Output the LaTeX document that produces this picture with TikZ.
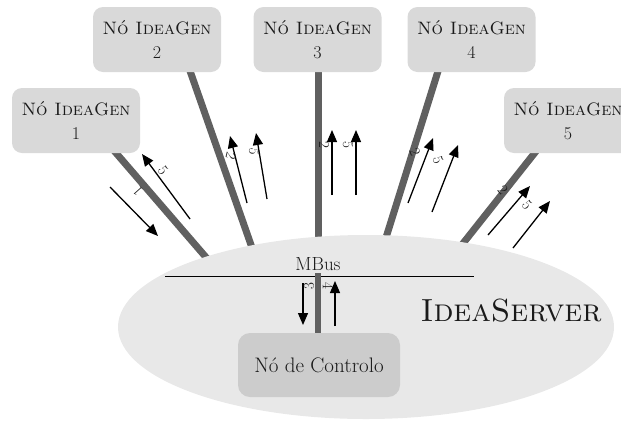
\documentclass[tikz,border=0pt]{standalone}
\usetikzlibrary{arrows.meta,shapes.geometric,backgrounds}
\definecolor{genfill}{HTML}{D9D9D9}
\definecolor{ctrlfill}{HTML}{CCCCCC}
\definecolor{srvfill}{HTML}{E8E8E8}
\definecolor{linkgray}{HTML}{606060}
\definecolor{txt}{HTML}{1A1A1A}
\tikzset{
  genbox/.style={fill=genfill, rounded corners=10pt, minimum width=128pt,
    minimum height=65pt, align=center, text=txt,
    font=\fontsize{18}{24}\selectfont},
  link/.style={draw=linkgray, line width=7pt},
  msg/.style={draw=black, line width=1.3pt, -{Triangle[length=12pt,width=10pt]}},
  num/.style={font=\fontsize{15}{15}\selectfont, text=txt, inner sep=0pt},
}
\begin{document}
\begin{tikzpicture}[x=1pt,y=-1pt]
\useasboundingbox (0,0) rectangle (621,421);

% IdeaServer region
\node[ellipse, fill=srvfill, minimum width=496pt, minimum height=184pt] (server) at (366,327) {};
\node[text=txt, font=\fontsize{32}{32}\selectfont] (srvlabel) at (511,311) {\textsc{IdeaServer}};

% IdeaGen nodes
\node[genbox] (g1) at (76,120.5) {\textsc{Nó IdeaGen}\\1};
\node[genbox] (g2) at (157,39.5) {\textsc{Nó IdeaGen}\\2};
\node[genbox] (g3) at (317.5,39.5) {\textsc{Nó IdeaGen}\\3};
\node[genbox] (g4) at (471.5,39.5) {\textsc{Nó IdeaGen}\\4};
\node[genbox] (g5) at (568,120.5) {\textsc{Nó IdeaGen}\\5};

% links from each IdeaGen node into the server
\coordinate (e1) at (223,277);
\coordinate (e2) at (257,262);
\coordinate (e3) at (318,262);
\coordinate (e4) at (379,260);
\coordinate (e5) at (434,280);
\begin{scope}[on background layer]
  \draw[link] (110,146) coordinate (s1) -- (e1);
  \draw[link] (189,68) coordinate (s2) -- (e2);
  \draw[link] (318,68) coordinate (s3) -- (e3);
  \draw[link] (439,68) coordinate (s4) -- (e4);
  \draw[link] (537,150) coordinate (s5) -- (e5);
\end{scope}

% message bus
\coordinate (busL) at (165,276);
\coordinate (busR) at (474,276);
\draw[line width=1pt] (busL) -- (busR);
\node[text=txt, font=\fontsize{19}{19}\selectfont, anchor=base] (mbus) at (318,270) {MBus};

% control node
\node[fill=ctrlfill, rounded corners=12pt, minimum width=162pt, minimum height=64pt,
      text=txt, font=\fontsize{21}{21}\selectfont] (ctrl) at (319,365) {Nó de Controlo};
\coordinate (cbus) at (318,273);
\draw[draw=linkgray, line width=6pt] (cbus) -- (ctrl.north -| cbus);

% messages between node 1 and the server
\coordinate (a1s) at (110,187); \coordinate (a1t) at (158,236);
\coordinate (b1s) at (190,219); \coordinate (b1t) at (142,154);
\draw[msg] (a1s) -- (a1t);
\draw[msg] (b1s) -- (b1t);
\node[num, rotate=132] (l11) at (138,191) {1};
\node[num, rotate=-54] (l15) at (163,170) {5};

% messages from node 2
\coordinate (a2s) at (247,203); \coordinate (a2t) at (230,136);
\coordinate (b2s) at (267,199); \coordinate (b2t) at (256,133);
\draw[msg] (a2s) -- (a2t);
\draw[msg] (b2s) -- (b2t);
\node[num, rotate=-104] (l22) at (231,156) {2};
\node[num, rotate=-100] (l25) at (254,152) {5};

% messages from node 3
\coordinate (a3s) at (332,195); \coordinate (a3t) at (332,130);
\coordinate (b3s) at (356,195); \coordinate (b3t) at (356,130);
\draw[msg] (a3s) -- (a3t);
\draw[msg] (b3s) -- (b3t);
\node[num, rotate=-90] (l32) at (324,145) {2};
\node[num, rotate=-90] (l35) at (348,145) {5};

% messages from node 4
\coordinate (a4s) at (408,203); \coordinate (a4t) at (433,138);
\coordinate (b4s) at (432,212); \coordinate (b4t) at (458,145);
\draw[msg] (a4s) -- (a4t);
\draw[msg] (b4s) -- (b4t);
\node[num, rotate=-70] (l42) at (415,152) {2};
\node[num, rotate=-70] (l45) at (438,160) {5};

% messages from node 5
\coordinate (a5s) at (488,235); \coordinate (a5t) at (530,186);
\coordinate (b5s) at (513,248); \coordinate (b5t) at (550,201);
\draw[msg] (a5s) -- (a5t);
\draw[msg] (b5s) -- (b5t);
\node[num, rotate=-50] (l52) at (503,190) {2};
\node[num, rotate=-50] (l55) at (527,205) {5};

% messages between the bus and the control node
\coordinate (a6s) at (303,283); \coordinate (a6t) at (303,325);
\coordinate (b6s) at (335,326); \coordinate (b6t) at (335,281);
\draw[msg] (a6s) -- (a6t);
\draw[msg] (b6s) -- (b6t);
\node[num, rotate=90] (l63) at (309,286) {3};
\node[num, rotate=-90] (l64) at (328,286) {4};
\end{tikzpicture}
\end{document}
